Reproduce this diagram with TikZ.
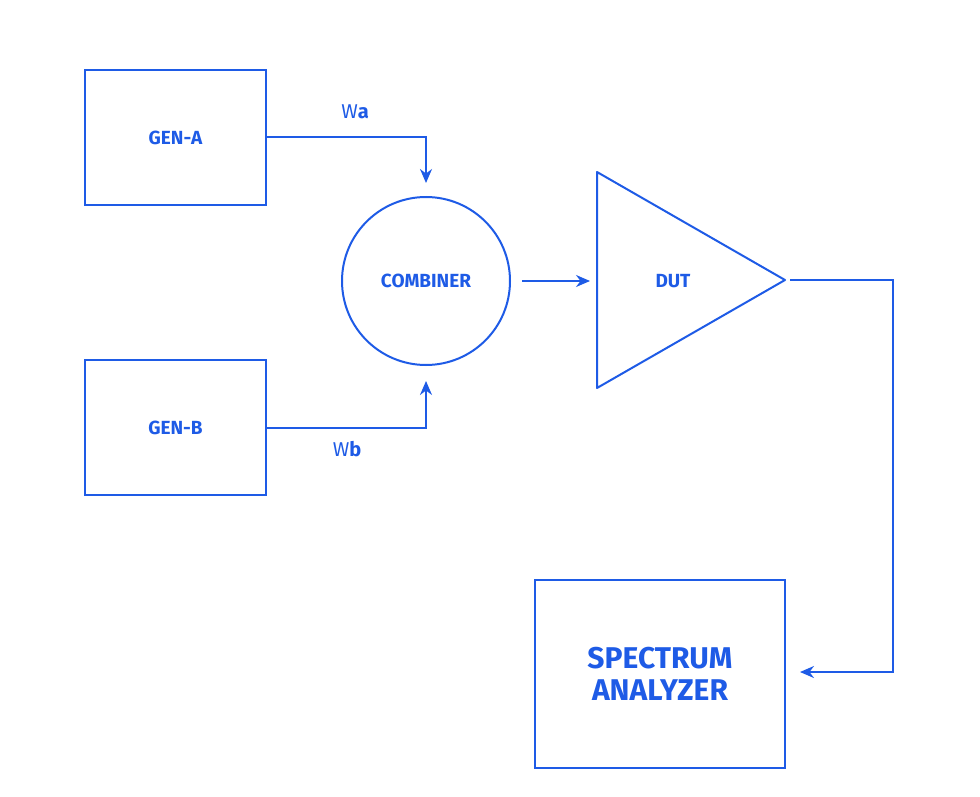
\documentclass[tikz,border=0pt]{standalone}
\usepackage{fontspec}
\setmainfont{Fira Sans}
\usetikzlibrary{arrows.meta}
\definecolor{bl}{HTML}{1E5BE6}
\begin{document}
\begin{tikzpicture}[x=1pt,y=-1pt,
  line/.style={draw=bl,line width=2pt},
  arr/.style={line,-{Stealth[length=14pt,width=12pt]}},
  lbl/.style={text=bl,font=\fontsize{19}{22}\selectfont\bfseries},
  box/.style={line,rectangle,minimum width=181pt,minimum height=135pt,lbl}]
\useasboundingbox (0,0) rectangle (980,797);
\node[box] (ga) at (175.5,137.5) {GEN-A};
\node[box] (gb) at (175.5,427.5) {GEN-B};
\node[line,circle,minimum size=168pt,lbl] (cb) at (426,281) {COMBINER};
\draw[line,line join=round] (597,172) coordinate (t1) -- (785,280) coordinate (tip) -- (597,388) -- cycle;
\node[lbl] (dut) at (673,281) {DUT};
\node[box,minimum width=250pt,minimum height=188pt,font=\fontsize{30}{32}\selectfont\bfseries,align=center] (sa) at (660,674) {SPECTRUM\\ANALYZER};
\coordinate (ca) at (426,183);
\coordinate (cbb) at (426,381);
\coordinate (cin) at (590,281);
\coordinate (cout) at (522,281);
\coordinate (dout) at (790,280);
\coordinate (sin) at (800,672);
\draw[arr] (ga.east |- 0,137) -| (ca);
\draw[arr] (gb.east |- 0,428) -| (cbb);
\draw[arr] (cout) -- (cin);
\draw[arr] (dout) -- (893,280) |- (sin);
\node[text=bl,font=\fontsize{20}{22}\selectfont] (wa) at (355,112) {W\textbf{a}};
\node[text=bl,font=\fontsize{20}{22}\selectfont] (wb) at (347,449) {W\textbf{b}};
\end{tikzpicture}
\end{document}
